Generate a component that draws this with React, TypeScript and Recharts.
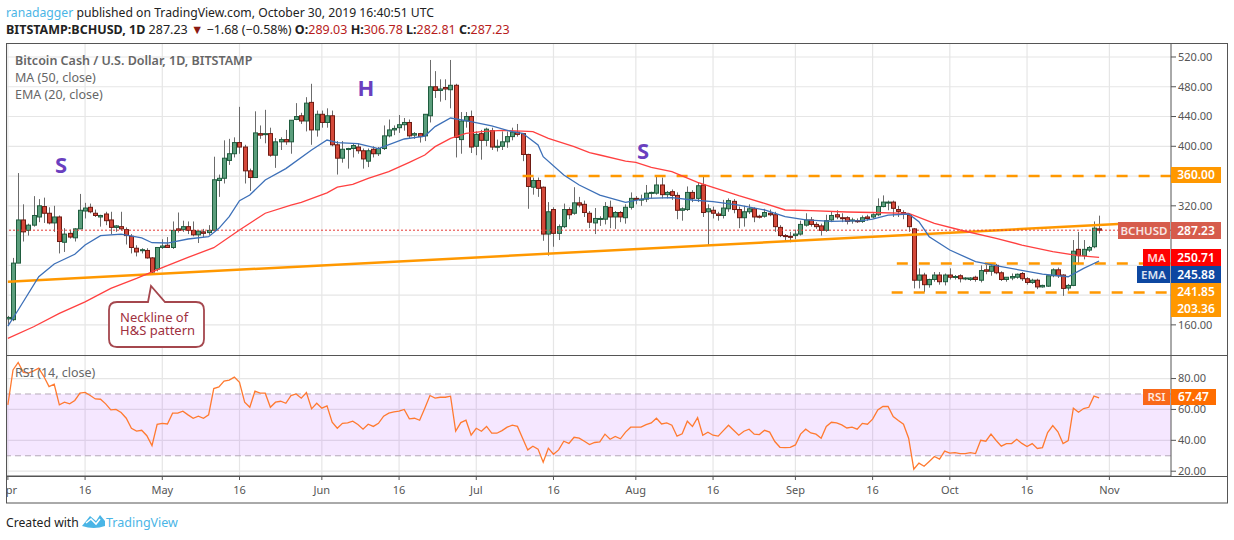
import React from "react";
import { ComposedChart, Bar, Line, XAxis, YAxis, CartesianGrid, ReferenceLine, ReferenceArea } from "recharts";

// [open, high, low, close], one row per day
const ohlcApr = [
  [168,172,160,170],[167,250,165,243],[243,364,243,301],[301,322,272,285],[287,296,280,294],[294,333,292,307],
  [305,329,298,320],[319,331,297,310],[310,318,295,297],[297,320,285,305],[305,307,256,272],[271,290,258,282],
  [283,288,276,278],[277,290,272,289],[289,336,289,314],[313,324,303,317],[318,323,310,312],[310,315,305,307],
  [305,308,292,307],[309,312,294,300],[301,312,282,291],[291,294,285,293],[292,312,287,289],[288,291,268,280],
  [279,282,256,264],[263,267,252,258],[260,263,256,261],[260,263,249,250],[250,251,228,231],[235,264,232,264],
];
const ohlcMay = [
  [264,275,262,266],[267,278,264,264],[264,299,262,287],[289,311,284,287],[288,300,285,292],[292,299,282,287],
  [287,299,279,281],[281,287,270,286],[285,289,278,283],[284,294,281,287],[287,386,287,355],[354,362,332,357],
  [357,408,350,384],[381,410,375,390],[390,412,385,405],[405,453,390,399],[399,402,350,367],[367,370,340,358],
  [358,447,358,418],[417,428,410,415],[416,449,404,417],[417,425,386,388],[388,411,371,406],[406,412,395,409],
  [409,422,402,406],[406,435,390,435],[436,458,435,440],[441,445,430,434],[434,466,420,458],[459,484,402,422],
  [422,448,413,443],
];
const ohlcJun = [
  [443,448,425,432],[432,451,425,441],[441,448,400,402],[402,407,362,384],[384,407,378,396],[396,398,370,397],
  [397,404,385,401],[399,404,390,394],[394,397,370,383],[380,397,372,394],[396,400,385,390],[390,399,387,397],
  [397,428,395,414],[414,436,412,422],[422,428,415,424],[425,442,418,429],[429,438,421,432],[432,436,410,414],
  [415,419,410,417],[417,418,405,413],[414,443,407,443],[441,516,432,480],[480,501,465,475],[475,490,460,477],
  [479,490,462,477],[476,516,451,482],[482,484,385,412],[409,446,390,434],[434,446,425,440],[440,448,391,399],
];
const ohlcJul = [
  [400,420,388,416],[417,422,382,408],[408,425,400,423],[421,425,395,399],[399,409,393,400],[400,420,395,406],
  [406,420,398,413],[413,425,408,419],[419,430,413,416],[417,418,380,389],[389,390,316,346],[345,358,335,354],
  [354,358,332,343.5],[345,346,273,282],[282,325,253,312],[315,318,265,283],[283,295,274,292],[292,323,290,315],
  [315,318,302,308],[310,345,308,324],[324,332,318,321],[322,327,305,311],[310,313,290,298],[297,317,282,303],
  [302,306,293,303],[302,325,295,319],[318,327,290,305],[305,313,289,311],[311,313,298,305],[304,322,296,318],
  [318,338,315,330],
];
const ohlcAug = [
  [330,333,322,329],[329,335,320,329],[329,348,325,337],[337,339,330,338],[337,359,335,348],[348,358,330,335],
  [335,340,330,338],[339,342,328,334],[334,338,302,314],[314,318,300,316],[315,346,313,338],[338,341,325,330],
  [330,352,325,347],[348,360,305,311],[312,322,267,316],[314,319,303,310],[309,312,300,307],[307,328,303,317],
  [316,330,312,327],[326,329,310,315],[315,319,290,304],[304,320,292,312],[312,322,309,316],[316,318,298,305],
  [306,308,303,305],[306,316,304,311],[310,315,306,308],[308,312,285,292],[291,294,278,280],[280,282,272,279],
  [279,285,271,278],
];
const ohlcSep = [
  [280,288,275,282],[282,300,280,295],[294,310,292,301],[301,305,292,295],[295,298,289,292],[293,296,280,287],
  [287,308,285,300],[301,312,298,307],[308,314,302,305],[304,310,298,303],[304,306,295,299],[300,304,296,301],
  [300,303,297,299],[299,307,297,304],[305,308,300,303],[305,310,303,308],[308,330,306,319],[319,334,318,325],
  [324,327,314,325],[325,327,305,316.6],[315,320,305,312.5],[311,314,302,308.5],[307.6,310,285,292],[289,290,209,220],
  [220,236,209,227],[227,230,204,214],[214,222,210,221],[221,231,218,227],[227,231,214,218],[218,229,213,227],
];
const ohlcOct = [
  [227,236,221,224],[224,227,221,225],[226,228,217,222],[222,224,220,223],[221,224,219,223],[224,226,218,221],
  [220,240,217,233],[234,241,228,232],[232,240,226,239],[240,242,228,230],[230,232,219,221],[221,224,218,224],
  [223,229,220,225],[224,229,222,228],[229,231,219,222],[222,224,214,217],[217,222,215,220],[220,222,208,211],
  [211,214,210,213],[212,226,211,226],[226,236,224,234],[234,237,223,226],[227,228,199,209],[209.5,215,206,213],
  [213,274,212,259],[261.5,285,241,253],[253,274,248,261.5],[260.5,266,258,264],[265,299,263,290],[289.03,306.78,282.81,287.23],
];

const maDays = [0,5,10,15,20,25,30,35,40,45,50,55,57,62,64,67,70,74,78,81,83,86,89,92,96,100,102,105,110,113,115,120,122,125,129,134,137,142,147,151,156,163,168,175,180,185,192,197,203,208,212];
const maValues = [141.8,157.5,175.5,191,209,222.5,237,250.7,263.7,287.5,310,321,324.7,337.5,345,348.9,357,365.9,378.4,388.3,399.5,410.7,417.4,419.6,421.4,420.5,419.6,410.7,399.5,391.4,388.3,380,378.4,371.7,365.9,351.6,344.8,333.6,323.3,314.4,313.5,311.7,311,309.9,296.4,287.5,276.3,267.3,258.3,253,250.71];
const emaDays = [0,2,6,9,13,15,18,22,26,28,31,35,39,41,43,45,47,50,54,59,62,64,68,72,77,81,83,86,89,94,98,100,103,104,108,111,115,120,124,129,133,137,142,147,151,155,160,166,168,171,175,177,179,183,188,193,201,206,209,212];
const emaValues = [158.4,180,224.7,241.8,254.8,267.3,279.8,282,277,270.4,270,275.4,278.5,289.7,305.4,326.9,334.5,354.7,370,395,408.4,404.9,403.5,397,409.8,413.8,426.4,438,434.4,427.3,419.6,417.4,401.7,386,361.4,348,334.5,324.7,330,331,327.8,325.6,321,314.4,305.4,301,299.2,300,302.2,307.6,309,298.7,278.5,260.6,244.9,238.2,228.3,224.7,236,245.88];

const rsiValues = [
  63,85.6,90.4,84,83.5,85,86.7,81.3,74.8,76.3,63,64.7,63.6,65.8,70.5,71,69,66.8,66.6,63.6,
  59.7,60,58,54.3,47.8,46,46.5,43,36.6,50.4,51,50.6,57.6,57.6,58.9,56.5,54.3,55.6,54.3,56.5,
  73.5,74.6,78.3,79,80.9,77.6,64.7,61.4,71.8,70.5,70.5,61.4,64.7,65.3,64,69,70,67.3,71,60.4,
  64,60.8,62.3,51.7,47.8,51,51.3,52.4,50.2,47.2,50.4,49,51,55.6,57.6,58.4,58.9,60,53.9,54.3,
  53,60.8,69,67.3,67.9,67.9,68.6,46,51.5,53,43.3,47.8,45.9,49,44.6,44.6,46.3,48.5,49.8,49,
  41.4,33.8,36.2,34.3,25.8,34.9,31,33.8,39.4,38,42,41.4,39.4,37.3,38.6,39,44,40.7,42.5,41,
  45.3,48.5,48.5,48.5,50.2,51.3,54.3,50.6,51.3,49.8,42.7,44.2,52.4,49,54.7,43.3,45.3,43.3,42.7,46.3,
  49.8,46.5,43.3,45.9,47.2,44,43.7,46.5,45.3,39.2,35.5,35.3,35.5,37,44,47.2,44.8,44,41.4,49,
  51.7,51.3,50,48,48.5,47.2,51,50.4,53.7,59.7,61.9,61.9,55.4,52.8,50.4,41.4,21.3,25.2,23.2,26.3,
  29.5,27.8,33,31.7,32,31.4,31.4,32,31.4,40,39.4,44,39.9,36.2,37.9,37.9,40.7,38,36,37.9,
  34.7,35.3,45,49.6,45.5,37.9,39.9,60.8,58.2,60.6,61.4,68.6,67.47,
];

const tickDays = [0,15,30,45,61,76,91,106,122,137,153,168,183,198,214];
const tickLabels = ["Apr","16","May","16","Jun","16","Jul","16","Aug","16","Sep","16","Oct","16","Nov"];
const priceGrid = [160,200,240,280,320,360,400,440,480,520];
const priceTicks = [160,320,400,440,480,520];
const rsiTicks = [20,40,60,80];
const neckline = [{ x: 0, y: 218 }, { x: 215.7, y: 295.5 }];
const resistance = [{ x: 100, y: 360 }, { x: 225.9, y: 360 }];
const support1 = [{ x: 172.7, y: 242.5 }, { x: 225.9, y: 242.5 }];
const support2 = [{ x: 171.7, y: 203.5 }, { x: 225.9, y: 203.5 }];

const FONT = "'Noto Sans', sans-serif";
const candles = [...ohlcApr, ...ohlcMay, ...ohlcJun, ...ohlcJul, ...ohlcAug, ...ohlcSep, ...ohlcOct];
const maByDay = new Map(maDays.map((d, i) => [d, maValues[i]]));
const emaByDay = new Map(emaDays.map((d, i) => [d, emaValues[i]]));
const rows = candles.map((c, d) => ({
  d, o: c[0], h: c[1], l: c[2], c: c[3],
  ma: maByDay.get(d) ?? null, ema: emaByDay.get(d) ?? null, rsi: rsiValues[d] ?? null,
}));

function Candle(props: any) {
  const { x, y, width, height, payload } = props;
  const cx = Math.round(x + width / 2) + 0.5;
  const k = height / Math.max(payload.h - payload.l, 0.01);
  const yO = y + (payload.h - payload.o) * k;
  const yC = y + (payload.h - payload.c) * k;
  const up = payload.c >= payload.o;
  const top = Math.min(yO, yC);
  const h = Math.max(Math.abs(yO - yC), 1);
  return (
    <g>
      <line x1={cx} x2={cx} y1={y} y2={y + height} stroke="#6b6b6b" strokeWidth={1} />
      <rect x={cx - 2} y={top} width={4} height={h}
        fill={up ? "#5b9e7c" : "#d4493a"} stroke={up ? "#1f5c3e" : "#6e1a12"} strokeWidth={1} />
    </g>
  );
}

function DateTick(props: any) {
  const { x, y, payload } = props;
  const i = tickDays.indexOf(payload.value);
  return <text x={x} y={y + 12} textAnchor="middle" fontFamily={FONT} fontSize={11} fill="#555">{tickLabels[i]}</text>;
}

function Tag({ x, y, w, h, fill, text, size = 12, opacity = 1 }: any) {
  return (
    <g>
      <rect x={x} y={y} width={w} height={h} fill={fill} />
      <text x={x + w / 2} y={y + h / 2 + 4.2} textAnchor="middle" fontFamily={FONT} fontSize={size} fontWeight={600} fill="#fff" opacity={opacity}>{text}</text>
    </g>
  );
}

export default function App() {
  const refStyle = { stroke: "#ff9800", strokeWidth: 2.5 };
  return (
    <div style={{ position: "absolute", left: 0, top: 0, width: 1234, height: 540, background: "#fff", overflow: "hidden" }}>
      <div style={{ position: "absolute", left: 0, top: 0 }}>
        <ComposedChart width={1234} height={540} data={rows} margin={{ top: 44, bottom: 185, left: 7, right: 0 }}>
          <CartesianGrid stroke="#e6e6e6" strokeWidth={1.2} verticalValues={tickDays} horizontalValues={priceGrid} />
          <XAxis dataKey="d" type="number" domain={[-0.17, 225.97]} ticks={tickDays} hide allowDataOverflow />
          <YAxis orientation="right" width={63} domain={[119.5, 537.47]} ticks={priceTicks} allowDataOverflow
            tick={{ fontFamily: FONT, fontSize: 11, fill: "#555" }} tickFormatter={(v: number) => v.toFixed(2)}
            tickSize={5} tickLine={{ stroke: "#555" }} axisLine={{ stroke: "#555" }} />
          <ReferenceLine segment={neckline} {...refStyle} />
          <ReferenceLine segment={resistance} {...refStyle} strokeDasharray="11 11" />
          <ReferenceLine segment={support1} {...refStyle} strokeDasharray="11 11" />
          <ReferenceLine segment={support2} {...refStyle} strokeDasharray="11 11" />
          <ReferenceLine y={287.23} stroke="#e53935" strokeWidth={1} strokeDasharray="2 2" />
          <Bar dataKey={(r: any) => [r.l, r.h]} barSize={5} shape={Candle} isAnimationActive={false} />
          <Line dataKey="ma" stroke="#ff4040" strokeWidth={1.3} dot={false} connectNulls isAnimationActive={false} />
          <Line dataKey="ema" stroke="#3d70b8" strokeWidth={1.3} dot={false} connectNulls isAnimationActive={false} />
        </ComposedChart>
      </div>
      <div style={{ position: "absolute", left: 0, top: 0 }}>
        <ComposedChart width={1234} height={540} data={rows} margin={{ top: 356, bottom: 37, left: 7, right: 0 }}>
          <CartesianGrid stroke="#e6e6e6" strokeWidth={1.2} verticalValues={tickDays} horizontalValues={rsiTicks} />
          <XAxis dataKey="d" type="number" domain={[-0.17, 225.97]} ticks={tickDays} height={27} interval={0} allowDataOverflow
            tick={DateTick} tickSize={4} tickLine={{ stroke: "#555" }} axisLine={{ stroke: "#555" }} />
          <YAxis orientation="right" width={63} domain={[16.9, 94.6]} ticks={rsiTicks} allowDataOverflow
            tick={{ fontFamily: FONT, fontSize: 11, fill: "#555" }} tickFormatter={(v: number) => v.toFixed(2)}
            tickSize={5} tickLine={{ stroke: "#555" }} axisLine={{ stroke: "#555" }} />
          <ReferenceArea y1={30} y2={70} fill="#9915ff" fillOpacity={0.1} stroke="none" />
          <ReferenceLine y={70} stroke="#b5aab8" strokeWidth={1} strokeDasharray="6 4" />
          <ReferenceLine y={30} stroke="#b5aab8" strokeWidth={1} strokeDasharray="6 4" />
          <Line dataKey="rsi" stroke="#ff7a30" strokeWidth={1.3} dot={false} isAnimationActive={false} />
        </ComposedChart>
      </div>
      <svg width={1234} height={540} style={{ position: "absolute", left: 0, top: 0, pointerEvents: "none" }}>
        <rect x={0} y={40} width={6} height={470} fill="#fff" />
        <rect x={6.5} y={43.5} width={1221} height={459.5} fill="none" stroke="#555" strokeWidth={1} />
        <line x1={6.5} x2={1227.5} y1={355.5} y2={355.5} stroke="#555" />
        <line x1={6.5} x2={1227.5} y1={476.5} y2={476.5} stroke="#555" />

        <text x={6} y={17} fontFamily={FONT} fontSize={12.2}>
          <tspan fill="#4ab5e6">ranadagger</tspan>
          <tspan fill="#222"> published on TradingView.com, October 30, 2019 16:40:51 UTC</tspan>
        </text>
        <text x={6} y={34} fontFamily={FONT} fontSize={12.5} fill="#222">
          <tspan fontWeight={700}>BITSTAMP:BCHUSD, 1D</tspan>
          <tspan> 287.23 </tspan>
          <tspan fill="#8b1a12">▼</tspan>
          <tspan> −1.68 (−0.58%) </tspan>
          <tspan fontWeight={700}>O:</tspan><tspan fill="#b71c1c">289.03 </tspan>
          <tspan fontWeight={700}>H:</tspan><tspan fill="#b71c1c">306.78 </tspan>
          <tspan fontWeight={700}>L:</tspan><tspan fill="#b71c1c">282.81 </tspan>
          <tspan fontWeight={700}>C:</tspan><tspan fill="#b71c1c">287.23</tspan>
        </text>

        <text x={15} y={65} fontFamily={FONT} fontSize={12.5} fontWeight={600} fill="#666">Bitcoin Cash / U.S. Dollar, 1D, BITSTAMP</text>
        <text x={15} y={82} fontFamily={FONT} fontSize={12.5} fill="#666">MA (50, close)</text>
        <text x={15} y={99} fontFamily={FONT} fontSize={12.5} fill="#666">EMA (20, close)</text>
        <text x={15} y={377} fontFamily={FONT} fontSize={12.5} fill="#666">RSI (14, close)</text>

        <text x={61} y={173} textAnchor="middle" fontFamily={FONT} fontSize={22} fontWeight={700} fill="#6a3fbf">S</text>
        <text x={366} y={96} textAnchor="middle" fontFamily={FONT} fontSize={22} fontWeight={700} fill="#6a3fbf">H</text>
        <text x={643} y={159} textAnchor="middle" fontFamily={FONT} fontSize={22} fontWeight={700} fill="#6a3fbf">S</text>

        <path d="M117 302 H148 L151 286 L165 302 H196 Q204 302 204 310 V339 Q204 347 196 347 H117 Q109 347 109 339 V310 Q109 302 117 302 Z"
          fill="#fff" stroke="#a5474e" strokeWidth={1.8} />
        <text x={120} y={322} fontFamily={FONT} fontSize={13} fill="#a03040">Neckline of</text>
        <text x={120} y={335} fontFamily={FONT} fontSize={13} fill="#a03040">H&amp;S pattern</text>

        <Tag x={1171} y={167} w={50} h={16} fill="#ff9800" text="360.00" />
        <Tag x={1118} y={222} w={52} h={17} fill="#d65c4c" text="BCHUSD" size={11.5} opacity={0.85} />
        <Tag x={1171} y={222} w={50} h={17} fill="#d65c4c" text="287.23" />
        <Tag x={1143} y={249} w={27} h={17} fill="#ff0000" text="MA" size={11.5} opacity={0.85} />
        <Tag x={1171} y={249} w={50} h={17} fill="#ff0000" text="250.71" />
        <Tag x={1137} y={266} w={33} h={17} fill="#0d47a1" text="EMA" size={11.5} opacity={0.85} />
        <Tag x={1171} y={266} w={50} h={17} fill="#0d47a1" text="245.88" />
        <Tag x={1171} y={283} w={50} h={17} fill="#ff9800" text="241.85" />
        <Tag x={1171} y={300} w={50} h={17} fill="#ff9800" text="203.36" />
        <Tag x={1143} y={389} w={27} h={16} fill="#f96819" text="RSI" size={11.5} opacity={0.85} />
        <Tag x={1171} y={389} w={45} h={16} fill="#ff6d00" text="67.47" />

        <text x={6} y={527} fontFamily={FONT} fontSize={12.2} fill="#222">Created with</text>
        <path d="M82 526 L90 516 L96 521 L100 515 L105 521 L105 526 Q94 530 82 526 Z" fill="#4ab5e6" />
        <path d="M86 523 L91 519 L96 524 L100 519" fill="none" stroke="#fff" strokeWidth={1.6} />
        <text x={106} y={527} fontFamily={FONT} fontSize={12.5} fill="#4ab5e6">TradingView</text>
      </svg>
    </div>
  );
}
